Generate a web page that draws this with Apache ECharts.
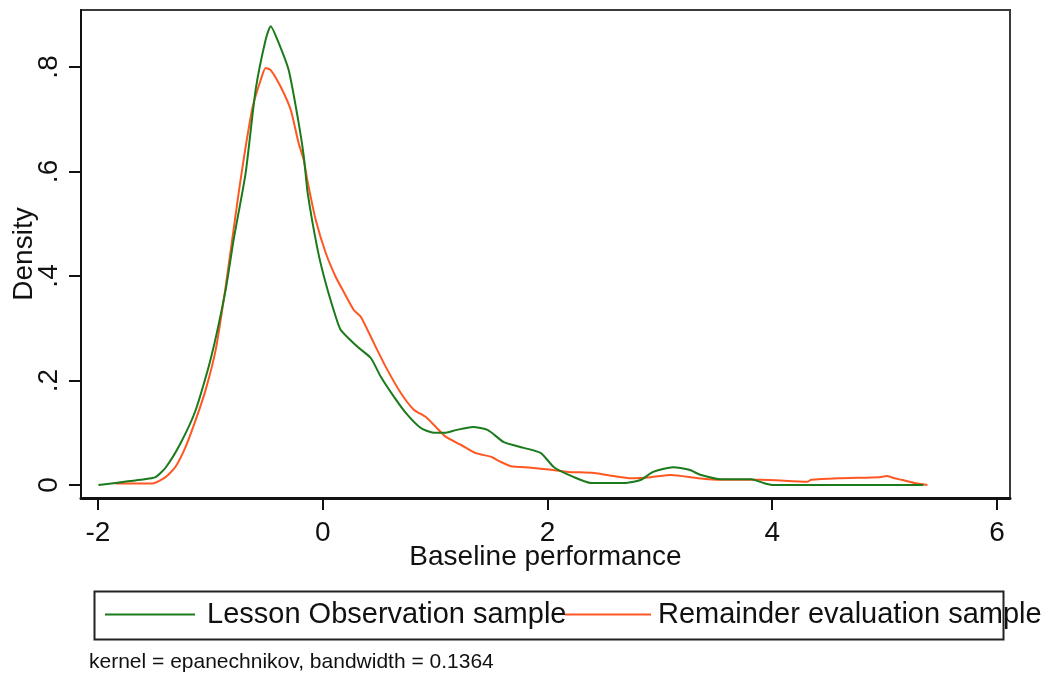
<!DOCTYPE html>
<html>
<head>
<meta charset="utf-8">
<script src="https://cdn.jsdelivr.net/npm/echarts@6/dist/echarts.min.js"></script>
<style>
html,body{margin:0;padding:0;background:#fff;}
#chart{width:1046px;height:673px;}
</style>
</head>
<body>
<div id="chart"></div>
<script>
// ---- data ----
const seriesNames = ['Lesson Observation sample', 'Remainder evaluation sample'];

const lessonX = [-1.996,-1.844,-1.621,-1.488,-1.399,-1.265,-1.131,-0.998,-0.864,-0.793,-0.686,-0.597,-0.508,-0.463,-0.392,-0.303,-0.223,-0.169,-0.134,-0.045,0.027,0.116,0.160,0.312,0.428,0.517,0.633,0.739,0.873,0.989,1.096,1.185,1.336,1.470,1.612,1.791,1.942,2.058,2.236,2.388,2.699,2.833,2.940,3.118,3.261,3.367,3.546,3.813,3.920,4.009,5.345];
const lessonY = [0.000,0.004,0.010,0.015,0.033,0.080,0.143,0.240,0.373,0.469,0.597,0.756,0.852,0.878,0.846,0.794,0.704,0.630,0.559,0.450,0.386,0.322,0.297,0.264,0.243,0.207,0.169,0.138,0.109,0.100,0.100,0.105,0.111,0.105,0.082,0.071,0.061,0.034,0.015,0.004,0.004,0.010,0.025,0.034,0.029,0.019,0.011,0.011,0.004,0.000,0.000];

const remainderX = [-1.844,-1.514,-1.399,-1.310,-1.220,-1.131,-1.042,-0.953,-0.864,-0.748,-0.686,-0.624,-0.552,-0.508,-0.463,-0.374,-0.285,-0.214,-0.169,-0.134,-0.062,0.027,0.116,0.178,0.276,0.339,0.454,0.561,0.695,0.811,0.918,1.007,1.096,1.229,1.363,1.497,1.586,1.675,1.853,2.031,2.183,2.414,2.592,2.744,2.922,3.100,3.341,3.546,3.902,4.312,4.347,4.588,4.953,5.016,5.087,5.149,5.265,5.381];
const remainderY = [0.003,0.003,0.015,0.035,0.073,0.124,0.182,0.258,0.379,0.559,0.647,0.723,0.775,0.798,0.794,0.762,0.718,0.654,0.622,0.580,0.507,0.444,0.398,0.373,0.335,0.322,0.272,0.226,0.176,0.144,0.130,0.111,0.092,0.077,0.061,0.054,0.044,0.036,0.033,0.029,0.025,0.023,0.017,0.013,0.015,0.019,0.013,0.010,0.010,0.006,0.010,0.013,0.015,0.017,0.013,0.010,0.004,0.000];

const xTickValues = [-2, 0, 2, 4, 6];
const xTickLabels = ['-2', '0', '2', '4', '6'];
const yTickValues = [0, 0.2, 0.4, 0.6, 0.8];
const yTickLabels = ['0', '.2', '.4', '.6', '.8'];

const xTitle = 'Baseline performance';
const yTitle = 'Density';
const noteText = 'kernel = epanechnikov, bandwidth = 0.1364';

// ---- build ----
const zip = (xs, ys) => xs.map((x, i) => [x, ys[i]]);
const labelFor = (vals, labels) => v => {
  for (let i = 0; i < vals.length; i++) if (Math.abs(vals[i] - v) < 1e-9) return labels[i];
  return '';
};

const FONT = 'Liberation Sans, Arial, sans-serif';
const GREEN = '#1b7a1b';
const ORANGE = '#ff5722';
const chart = echarts.init(document.getElementById('chart'), null, {renderer: 'canvas'});

chart.setOption({
  animation: false,
  backgroundColor: '#ffffff',
  textStyle: {fontFamily: FONT},
  grid: {
    left: 81, right: 36, top: 10, bottom: 175,
    containLabel: false, outerBoundsMode: 'none',
    show: true, borderColor: '#3a3a3a', borderWidth: 2, backgroundColor: 'transparent'
  },
  xAxis: {
    type: 'value',
    min: -2.151, max: 6.116,
    splitLine: {show: false},
    axisLine: {show: true, onZero: false, lineStyle: {color: '#111', width: 3}},
    axisTick: {show: true, inside: false, length: 12, lineStyle: {color: '#111', width: 2}, customValues: xTickValues},
    axisLabel: {customValues: xTickValues, formatter: labelFor(xTickValues, xTickLabels),
      fontSize: 28, color: '#111', margin: 21, fontFamily: FONT},
    name: xTitle, nameLocation: 'middle', nameGap: 45, nameMoveOverlap: false,
    nameTextStyle: {fontSize: 28, color: '#111', fontFamily: FONT}
  },
  yAxis: {
    type: 'value',
    min: -0.0249, max: 0.909,
    splitLine: {show: false},
    axisLine: {show: true, onZero: false, lineStyle: {color: '#111', width: 2}},
    axisTick: {show: true, inside: false, length: 12, lineStyle: {color: '#111', width: 2}, customValues: yTickValues},
    axisLabel: {customValues: yTickValues, formatter: labelFor(yTickValues, yTickLabels),
      rotate: 90, fontSize: 28, color: '#111', margin: 18, fontFamily: FONT},
    name: yTitle, nameLocation: 'middle', nameGap: 43, nameRotate: 90, nameMoveOverlap: false,
    nameTextStyle: {fontSize: 28, color: '#111', fontFamily: FONT}
  },
  legend: [
    {
      data: [{name: seriesNames[0], icon: 'rect'}], left: 100, top: 595, itemWidth: 90, itemHeight: 2,
      textStyle: {fontSize: 29, color: '#111', fontFamily: FONT, padding: [0, 0, 0, 7]}
    },
    {
      data: [{name: seriesNames[1], icon: 'rect'}], left: 560, top: 595, itemWidth: 86, itemHeight: 2,
      textStyle: {fontSize: 29, color: '#111', fontFamily: FONT, padding: [0, 0, 0, 2]}
    }
  ],
  title: {
    text: noteText, left: 84, top: 647,
    textStyle: {fontSize: 21, fontWeight: 'normal', color: '#111', fontFamily: FONT}
  },
  graphic: [{
    type: 'rect', left: 92, top: 589, z: 0, silent: true,
    shape: {width: 909, height: 48},
    style: {fill: 'none', stroke: '#222', lineWidth: 2}
  }],
  series: [
    {
      name: seriesNames[0], type: 'line', data: zip(lessonX, lessonY),
      symbol: 'none', smooth: 0.2, lineStyle: {color: GREEN, width: 2}, itemStyle: {color: GREEN}, z: 3
    },
    {
      name: seriesNames[1], type: 'line', data: zip(remainderX, remainderY),
      symbol: 'none', smooth: 0.2, lineStyle: {color: ORANGE, width: 2}, itemStyle: {color: ORANGE}, z: 2
    }
  ]
});
</script>
</body>
</html>
